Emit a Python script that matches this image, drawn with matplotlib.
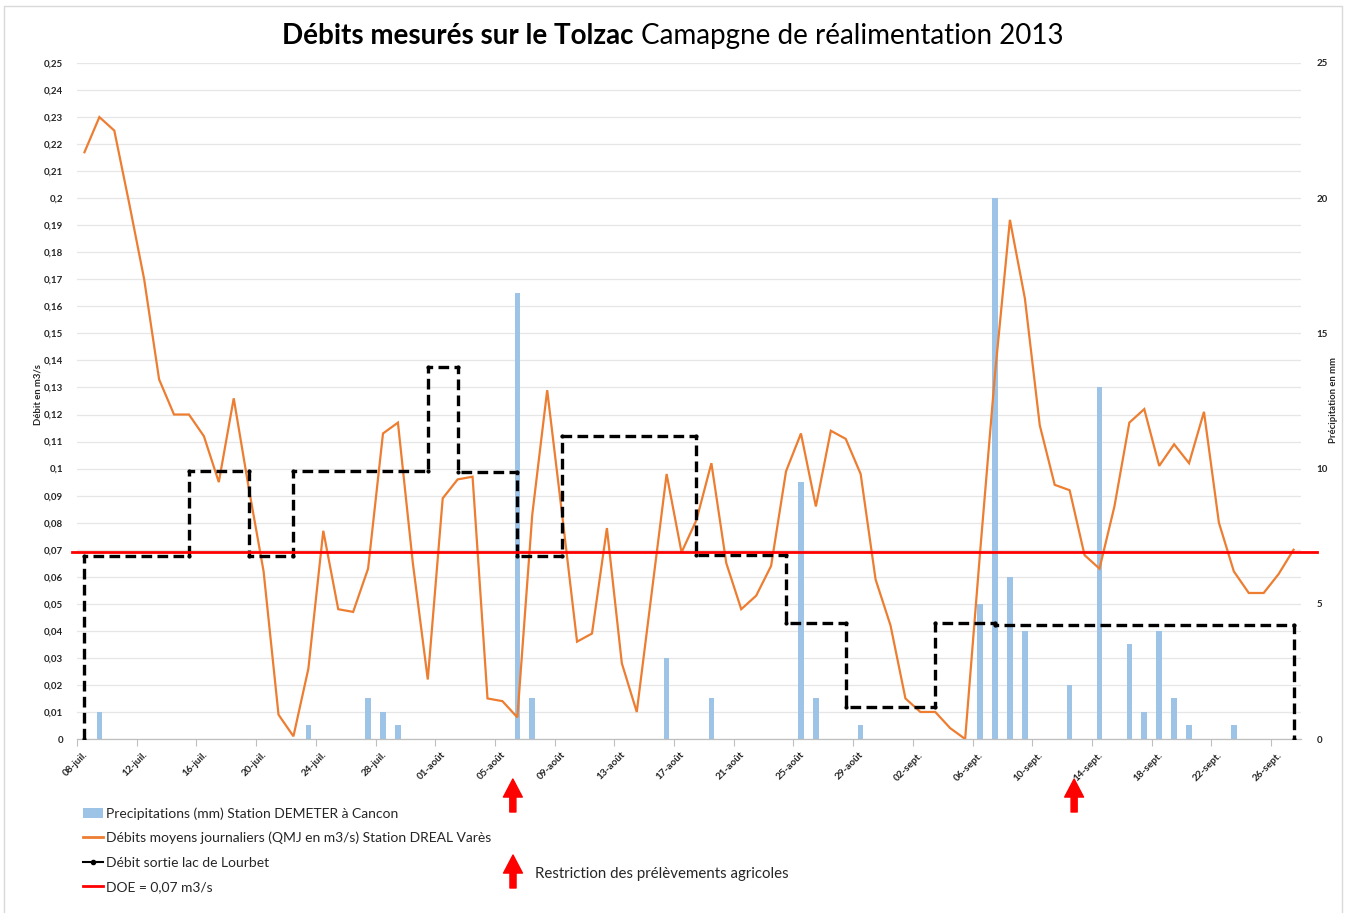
import matplotlib
matplotlib.use('Agg')
import matplotlib.pyplot as plt
import numpy as np
from matplotlib.lines import Line2D
from matplotlib.patches import Patch
import matplotlib.transforms as mtransforms

plt.rcParams['font.family'] = ['Lato', 'DejaVu Sans']

# ---------------- DATA ----------------
# day index 0 = 08-juil. 2013 ... 81 = 27-sept. 2013
tick_labels = ['08-juil.', '12-juil.', '16-juil.', '20-juil.', '24-juil.', '28-juil.',
               '01-août', '05-août', '09-août', '13-août', '17-août', '21-août',
               '25-août', '29-août', '02-sept.', '06-sept.', '10-sept.', '14-sept.',
               '18-sept.', '22-sept.', '26-sept.']
tick_days = [0, 4, 8, 12, 16, 20, 24, 28, 32, 36, 40, 44, 48, 52, 56, 60, 64, 68, 72, 76, 80]

# Débits moyens journaliers (QMJ en m3/s) Station DREAL Varès
qmj = [0.217, 0.230, 0.225, 0.198, 0.170, 0.133, 0.120, 0.120, 0.112, 0.095,
       0.126, 0.093, 0.062, 0.009, 0.001, 0.026, 0.077, 0.048, 0.047, 0.063,
       0.113, 0.117, 0.065, 0.022, 0.089, 0.096, 0.097, 0.015, 0.014, 0.008,
       0.083, 0.129, 0.083, 0.036, 0.039, 0.078, 0.028, 0.010, 0.054, 0.098,
       0.069, 0.081, 0.102, 0.065, 0.048, 0.053, 0.064, 0.099, 0.113, 0.086,
       0.114, 0.111, 0.098, 0.059, 0.042, 0.015, 0.010, 0.010, 0.004, 0.000,
       0.069, 0.135, 0.192, 0.163, 0.116, 0.094, 0.092, 0.068, 0.063, 0.086,
       0.117, 0.122, 0.101, 0.109, 0.102, 0.121, 0.080, 0.062, 0.054, 0.054,
       0.061, 0.070]

# Precipitations (mm) Station DEMETER à Cancon
rain_days = [1, 15, 19, 20, 21, 29, 30, 39, 42, 48, 49, 52, 60, 61, 62, 63, 66, 68, 70, 71, 72, 73, 74, 77]
rain_mm = [1, 0.5, 1.5, 1, 0.5, 16.5, 1.5, 3, 1.5, 9.5, 1.5, 0.5, 5, 20, 6, 4, 2, 13, 3.5, 1, 4, 1.5, 0.5, 0.5]

# Débit sortie lac de Lourbet (step changes: day, new value)
lourbet_days = [0, 7, 11, 14, 23, 25, 29, 32, 41, 47, 51, 57, 61, 81]
lourbet_vals = [0.0676, 0.099, 0.0676, 0.099, 0.1375, 0.0987, 0.0678, 0.112, 0.068,
                0.0428, 0.012, 0.043, 0.042, 0.0]

doe = 0.069
restriction_days = [28.7, 66.3]

# ---------------- FIGURE ----------------
W, H = 1347, 913
fig = plt.figure(figsize=(W / 100, H / 100), dpi=100)
fig.patch.set_facecolor('white')

x_left_px, x_right_px, y_top_px, y_bot_px = 77, 1301, 63, 739
rect = [x_left_px / W, 1 - y_bot_px / H, (x_right_px - x_left_px) / W, (y_bot_px - y_top_px) / H]
ax = fig.add_axes(rect)
ax2 = ax.twinx()
ax.set_zorder(2)
ax2.set_zorder(1)
ax.patch.set_visible(False)

n = len(qmj)
days = np.arange(n)

# rain bars (secondary axis)
ax2.bar(rain_days, rain_mm, width=0.38, color='#9DC3E6', zorder=2)
ax2.set_ylim(0, 25)
ax2.set_yticks([0, 5, 10, 15, 20, 25])
ax2.set_yticks(np.arange(0, 26, 1), minor=True)
ax2.grid(True, which='both', axis='y', color='#E6E6E6', lw=0.9, zorder=0)
ax2.set_axisbelow(True)
ax2.tick_params(axis='y', which='both', length=0, pad=11, labelsize=7, labelcolor='#262626')
for lab in ax2.get_yticklabels():
    lab.set_fontweight('bold')

# discharge
ax.plot(days, qmj, color='#ED7D31', lw=1.6, zorder=3, solid_joinstyle='miter')

# Lourbet step line
lx, ly = [], []
prev = 0.0
for d, v in zip(lourbet_days, lourbet_vals):
    lx += [d, d]
    ly += [prev, v]
    prev = v
ax.plot(lx, ly, color='black', lw=2.4, linestyle=(0, (3.2, 1.6)), marker='o',
        markersize=2.0, zorder=4)

ax.set_xlim(-0.5, n - 0.5)
# DOE line (slightly overshooting plot area as in reference)
ax.plot([-0.85, n + 0.6], [doe, doe], color='#FF0000', lw=2, zorder=5, clip_on=False)

ax.set_ylim(0, 0.25)
yt = np.round(np.arange(0, 0.2501, 0.01), 2)
ax.set_yticks(yt)
ax.set_yticklabels([('%.2f' % v).rstrip('0').rstrip('.').replace('.', ',') for v in yt])
ax.tick_params(axis='y', length=0, pad=10, labelsize=7, labelcolor='#262626')
for lab in ax.get_yticklabels():
    lab.set_fontweight('bold')

ax.set_xticks(np.array(tick_days) - 0.5)
ax.set_xticklabels(tick_labels, rotation=45, ha='right', va='top', rotation_mode='anchor')
ax.tick_params(axis='x', length=5, width=0.8, color='#BFBFBF', pad=3, labelsize=7.2,
               labelcolor='#262626', direction='out')
off = mtransforms.ScaledTranslation(6 / 100, 0, fig.dpi_scale_trans)
for lab in ax.get_xticklabels():
    lab.set_fontweight('bold')
    lab.set_transform(lab.get_transform() + off)

for a in (ax, ax2):
    for s in ('left', 'right', 'top'):
        a.spines[s].set_visible(False)
    a.spines['bottom'].set_color('#BFBFBF')
    a.spines['bottom'].set_linewidth(0.9)
ax2.spines['bottom'].set_visible(False)
ax2.tick_params(axis='x', which='both', length=0, labelbottom=False)

# axis titles
fig.text(38 / W, 1 - 395 / H, 'Débit en m3/s', rotation=90, ha='center', va='center',
         fontsize=6.8, fontweight='bold', color='#262626')
fig.text(1333 / W, 1 - 400 / H, 'Précipitation en mm', rotation=90, ha='center', va='center',
         fontsize=6.8, fontweight='bold', color='#262626')

# title (two weights), fitted to reference width
t1 = fig.text(634 / W, 1 - 36 / H, 'Débits mesurés sur le Tolzac', ha='right', va='center',
              fontsize=19, fontweight='bold', color='black')
t2 = fig.text(641 / W, 1 - 36 / H, 'Camapgne de réalimentation 2013', ha='left', va='center',
              fontsize=19, color='black')
fig.canvas.draw()
r = fig.canvas.get_renderer()
w1 = t1.get_window_extent(r).width
w2 = t2.get_window_extent(r).width
t1.set_fontsize(19 * 350 / w1)
t2.set_fontsize(19 * 422 / w2)

# legend
handles = [Patch(facecolor='#9DC3E6', edgecolor='none'),
           Line2D([], [], color='#ED7D31', lw=2),
           Line2D([], [], color='black', lw=1.5, marker='o', markersize=3),
           Line2D([], [], color='#FF0000', lw=2)]
labels = ['Precipitations (mm) Station DEMETER à Cancon',
          'Débits moyens journaliers (QMJ en m3/s) Station DREAL Varès',
          'Débit sortie lac de Lourbet',
          'DOE = 0,07 m3/s']
leg = fig.legend(handles, labels, loc='upper left', bbox_to_anchor=(83 / W, 1 - 807 / H),
                 frameon=False, fontsize=10, handlelength=1.45, handletextpad=0.2,
                 labelspacing=0.88, borderaxespad=0, borderpad=0)
for t in leg.get_texts():
    t.set_color('#262626')

# restriction arrows
astyle = 'simple,head_length=0.65,head_width=0.68,tail_width=0.22'
for d in restriction_days:
    ax.annotate('', xy=(d, H - 779), xytext=(d, H - 812),
                xycoords=('data', 'figure pixels'), textcoords=('data', 'figure pixels'),
                arrowprops=dict(arrowstyle=astyle, color='#FF0000', shrinkA=0, shrinkB=0,
                                mutation_scale=20),
                annotation_clip=False)
fig.add_artist(matplotlib.text.Annotation('', xy=(513, H - 855), xytext=(513, H - 888),
               xycoords='figure pixels', textcoords='figure pixels',
               arrowprops=dict(arrowstyle=astyle, color='#FF0000', shrinkA=0, shrinkB=0,
                               mutation_scale=20)))
fig.text(535 / W, 1 - 874 / H, 'Restriction des prélèvements agricoles', ha='left', va='center',
         fontsize=10.8, color='#262626')

# outer frame
fig.add_artist(Line2D([4 / W, 4 / W, 1342 / W, 1342 / W], [0, 1 - 6 / H, 1 - 6 / H, 0],
                      transform=fig.transFigure, color='#D9D9D9', lw=1))

fig.savefig('out.png', dpi=100)
